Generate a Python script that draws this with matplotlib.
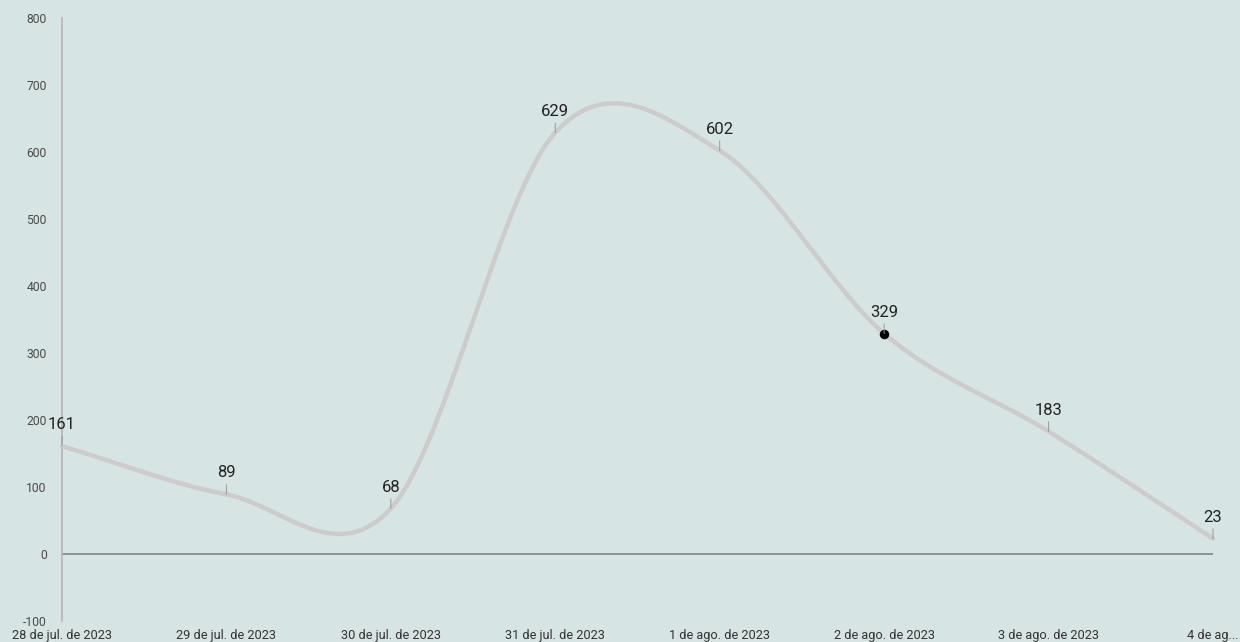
import matplotlib
matplotlib.use("Agg")
import matplotlib.pyplot as plt
import numpy as np

plt.rcParams["font.family"] = ["Roboto", "DejaVu Sans"]

dates = ["28 de jul. de 2023", "29 de jul. de 2023", "30 de jul. de 2023",
         "31 de jul. de 2023", "1 de ago. de 2023", "2 de ago. de 2023",
         "3 de ago. de 2023", "4 de ag..."]
values = [161, 89, 68, 629, 602, 329, 183, 23]
highlight = 5  # point drawn with a dot
yticks = [-100, 0, 100, 200, 300, 400, 500, 600, 700, 800]

bg = "#d6e4e3"
line_col = "#cdcbcb"


def catmull_rom(y, steps=60):
    # uniform catmull-rom through the points, one-sided tangents at the ends
    y = np.asarray(y, dtype=float)
    n = len(y)
    m = np.zeros(n)
    m[1:-1] = (y[2:] - y[:-2]) / 2
    m[0] = y[1] - y[0]
    m[-1] = y[-1] - y[-2]
    xs, ys = [], []
    t = np.linspace(0, 1, steps, endpoint=False)
    h00 = 2*t**3 - 3*t**2 + 1
    h10 = t**3 - 2*t**2 + t
    h01 = -2*t**3 + 3*t**2
    h11 = t**3 - t**2
    for i in range(n - 1):
        xs.append(i + t)
        ys.append(h00*y[i] + h10*m[i] + h01*y[i+1] + h11*m[i+1])
    xs.append([n - 1])
    ys.append([y[-1]])
    return np.concatenate(xs), np.concatenate(ys)


fig = plt.figure(figsize=(12.4, 6.42), dpi=100, facecolor=bg)
ax = fig.add_axes([62/1240, 1-621/642, (1213-62)/1240, (621-18)/642])
ax.set_facecolor(bg)

x = np.arange(len(values))
sx, sy = catmull_rom(values)
ax.plot(sx, sy, color=line_col, lw=3.2, solid_capstyle="round", clip_on=False, zorder=3)
ax.axhline(0, color="#8a8a8a", lw=1.3, zorder=2)

ax.scatter([x[highlight]], [values[highlight]], s=34, color="black", zorder=5, clip_on=False)

for i, v in enumerate(values):
    ax.annotate(str(v), (x[i], v), xytext=(0, 10), textcoords="offset points",
                ha="center", va="bottom", fontsize=12, color="#222222",
                arrowprops=dict(arrowstyle="-", color="#999999", lw=0.7,
                                shrinkA=1, shrinkB=0), zorder=6)

ax.set_xlim(0, len(values) - 1)
ax.set_ylim(-100, 800)
ax.set_yticks(yticks)
ax.set_yticklabels([str(t) for t in yticks])
ax.set_xticks(x)
ax.set_xticklabels(dates)
ax.tick_params(axis="y", length=0, pad=11, labelsize=8.7, labelcolor="#4a4a4a")
ax.tick_params(axis="x", length=0, pad=6, labelsize=9.2, labelcolor="#333333")

for s in ["top", "right", "bottom"]:
    ax.spines[s].set_visible(False)
ax.spines["left"].set_color("#b5b5b5")
ax.spines["left"].set_linewidth(1.2)

fig.savefig("out.png", dpi=100, facecolor=bg)
